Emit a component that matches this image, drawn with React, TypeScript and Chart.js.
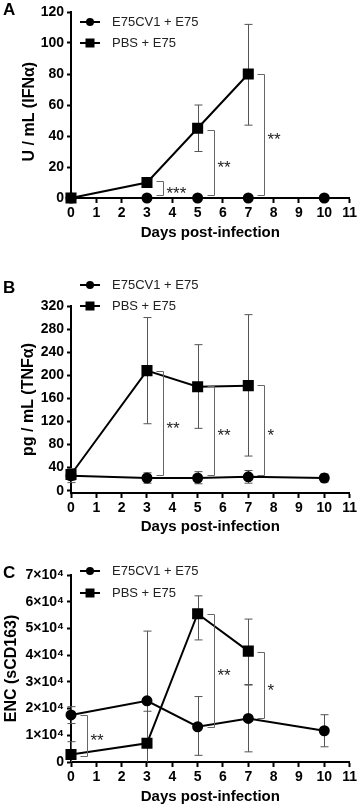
import React, { useEffect, useRef } from "react";
import { Chart, registerables } from "chart.js";

Chart.register(...registerables);

// ---------- shared data ----------
const seriesLabels = ["E75CV1 + E75", "PBS + E75"];
const e75cv1Days = [0, 3, 5, 7, 10];
const pbsDays = [0, 3, 5, 7];
const xTicks = [0, 1, 2, 3, 4, 5, 6, 7, 8, 9, 10, 11];
const xTitle = "Days post-infection";

// ---------- Panel A: IFN alpha ----------
const ifnTicks = [0, 20, 40, 60, 80, 100, 120];
const ifnE75CV1 = [0, 0, 0, 0, 0];
const ifnE75CV1Hi = [0, 0, 0, 0, 0];
const ifnE75CV1Lo = [0, 0, 0, 0, 0];
const ifnPBS = [0, 10, 45, 80];
const ifnPBSHi = [0, 11, 60, 112];
const ifnPBSLo = [0, 9, 30, 47];
const ifnSigDays = [3, 5, 7];
const ifnSigTop = [10.8, 43.8, 80];
const ifnSigBottom = [2.2, 1.7, 2];
const ifnSigLabels = ["***", "**", "**"];

// ---------- Panel B: TNF alpha ----------
const tnfTicks = [0, 40, 80, 120, 160, 200, 240, 280, 320];
const tnfE75CV1 = [26, 22, 22, 24, 22];
const tnfE75CV1Hi = [38, 31, 33, 35, 29];
const tnfE75CV1Lo = [14, 13, 12, 13, 15];
const tnfPBS = [28, 208, 180, 182];
const tnfPBSHi = [38, 300, 253, 305];
const tnfPBSLo = [18, 116, 108, 60];
const tnfSigDays = [3, 5, 7];
const tnfSigTop = [208, 181, 183];
const tnfSigBottom = [27, 27, 27];
const tnfSigLabels = ["**", "**", "*"];

// ---------- Panel C: sCD163 ----------
const encTicks = [0, 10000, 20000, 30000, 40000, 50000, 60000, 70000];
const encE75CV1 = [17600, 22900, 13200, 16300, 11700];
const encE75CV1Hi = [20700, 49000, 24500, 28800, 17700];
const encE75CV1Lo = [14400, -3000, 2500, 3800, 5700];
const encPBS = [2800, 7000, 55500, 41500];
const encPBSHi = [7600, 19000, 62200, 53500];
const encPBSLo = [-2000, -5000, 45700, 29000];
const encSigDays = [0, 5, 7];
const encSigTop = [17600, 55300, 41300];
const encSigBottom = [2400, 13200, 16600];
const encSigLabels = ["**", "**", "*"];

const FONT = "'Liberation Sans', Arial, Helvetica, sans-serif";

type Panel = {
  letter: string;
  top: number;
  height: number;
  padTop: number;
  xAxisH: number;
  yMin: number;
  yMax: number;
  yTicks: number[];
  yTitle: string;
  yTitlePad: number;
  e: number[];
  eHi: number[];
  eLo: number[];
  p: number[];
  pHi: number[];
  pLo: number[];
  sigDays: number[];
  sigTop: number[];
  sigBottom: number[];
  sigLabels: string[];
  legendY: number[];
  letterY: number;
  fmt: (v: number) => string;
};

const panels: Panel[] = [
  {
    letter: "A", top: 0, height: 242, padTop: 12, xAxisH: 44,
    yMin: 0, yMax: 120, yTicks: ifnTicks, yTitle: "U / mL (IFNα)   ", yTitlePad: 20,
    e: ifnE75CV1, eHi: ifnE75CV1Hi, eLo: ifnE75CV1Lo,
    p: ifnPBS, pHi: ifnPBSHi, pLo: ifnPBSLo,
    sigDays: ifnSigDays, sigTop: ifnSigTop, sigBottom: ifnSigBottom, sigLabels: ifnSigLabels,
    legendY: [22, 43], letterY: 10, fmt: (v) => String(v),
  },
  {
    letter: "B", top: 270, height: 266, padTop: 36, xAxisH: 43,
    yMin: -4, yMax: 320, yTicks: tnfTicks, yTitle: "pg / mL (TNFα)", yTitlePad: 19,
    e: tnfE75CV1, eHi: tnfE75CV1Hi, eLo: tnfE75CV1Lo,
    p: tnfPBS, pHi: tnfPBSHi, pLo: tnfPBSLo,
    sigDays: tnfSigDays, sigTop: tnfSigTop, sigBottom: tnfSigBottom, sigLabels: tnfSigLabels,
    legendY: [15, 36], letterY: 18, fmt: (v) => String(v),
  },
  {
    letter: "C", top: 560, height: 246, padTop: 15, xAxisH: 44,
    yMin: 0, yMax: 70000, yTicks: encTicks, yTitle: "ENC (sCD163)", yTitlePad: 2,
    e: encE75CV1, eHi: encE75CV1Hi, eLo: encE75CV1Lo,
    p: encPBS, pHi: encPBSHi, pLo: encPBSLo,
    sigDays: encSigDays, sigTop: encSigTop, sigBottom: encSigBottom, sigLabels: encSigLabels,
    legendY: [11, 33], letterY: 13, fmt: (v) => (v === 0 ? "0" : `${v / 10000}×10⁴`),
  },
];

function makePlugin(pn: Panel) {
  return {
    id: "extras" + pn.letter,
    beforeDatasetsDraw(chart: any) {
      const { ctx, chartArea } = chart;
      const xs = chart.scales.x;
      const ys = chart.scales.y;
      ctx.save();
      ctx.beginPath();
      ctx.rect(chartArea.left - 20, chartArea.top - 20, chartArea.right - chartArea.left + 40, chartArea.bottom - chartArea.top + 20);
      ctx.clip();
      ctx.strokeStyle = "#555";
      ctx.lineWidth = 1;
      const drawErr = (days: number[], hi: number[], lo: number[]) => {
        days.forEach((d, i) => {
          if (hi[i] === lo[i]) return;
          const x = Math.round(xs.getPixelForValue(d)) + 0.5;
          const yh = ys.getPixelForValue(hi[i]);
          const yl = ys.getPixelForValue(lo[i]);
          ctx.beginPath();
          ctx.moveTo(x, yh);
          ctx.lineTo(x, yl);
          ctx.moveTo(x - 4, yh);
          ctx.lineTo(x + 4, yh);
          if (lo[i] >= pn.yMin) {
            ctx.moveTo(x - 4, yl);
            ctx.lineTo(x + 4, yl);
          }
          ctx.stroke();
        });
      };
      drawErr(e75cv1Days, pn.eHi, pn.eLo);
      drawErr(pbsDays, pn.pHi, pn.pLo);
      ctx.restore();
    },
    afterDatasetsDraw(chart: any) {
      const { ctx } = chart;
      const xs = chart.scales.x;
      const ys = chart.scales.y;
      ctx.save();
      // significance brackets
      ctx.strokeStyle = "#666";
      ctx.lineWidth = 1;
      ctx.fillStyle = "#222";
      ctx.font = `17px ${FONT}`;
      ctx.textAlign = "left";
      ctx.textBaseline = "alphabetic";
      pn.sigDays.forEach((d, i) => {
        const x = xs.getPixelForValue(d);
        const a = Math.round(x + 9) + 0.5;
        const v = Math.round(x + 16) + 0.5;
        const yt = Math.round(ys.getPixelForValue(pn.sigTop[i])) + 0.5;
        const yb = Math.round(ys.getPixelForValue(pn.sigBottom[i])) + 0.5;
        ctx.beginPath();
        ctx.moveTo(a, yt);
        ctx.lineTo(v, yt);
        ctx.lineTo(v, yb);
        ctx.lineTo(a, yb);
        ctx.stroke();
        ctx.fillText(pn.sigLabels[i], v + 3, (yt + yb) / 2 + 10);
      });
      // legend
      seriesLabels.forEach((lab, i) => {
        const y = pn.legendY[i];
        ctx.strokeStyle = "#000";
        ctx.lineWidth = 2;
        ctx.beginPath();
        ctx.moveTo(80, y);
        ctx.lineTo(100, y);
        ctx.stroke();
        ctx.fillStyle = "#000";
        ctx.beginPath();
        if (i === 0) ctx.arc(90, y, 4, 0, Math.PI * 2);
        else ctx.rect(85.5, y - 4.5, 9, 9);
        ctx.fill();
        ctx.fillStyle = "#222";
        ctx.font = `13px ${FONT}`;
        ctx.textBaseline = "middle";
        ctx.fillText(lab, 112, y);
      });
      // panel letter
      ctx.fillStyle = "#000";
      ctx.font = `bold 17px ${FONT}`;
      ctx.textBaseline = "middle";
      ctx.fillText(pn.letter, 3, pn.letterY);
      ctx.restore();
    },
  };
}

function makeConfig(pn: Panel): any {
  const tickFont = { family: FONT, size: 14, weight: "bold" as const };
  const titleFont = { family: FONT, size: 16, weight: "bold" as const };
  const common = {
    borderColor: "#000",
    backgroundColor: "#000",
    pointBackgroundColor: "#000",
    pointBorderColor: "#000",
    borderWidth: 2,
    tension: 0,
    fill: false,
    clip: false as const,
  };
  return {
    type: "line",
    data: {
      datasets: [
        {
          ...common,
          label: seriesLabels[0],
          data: e75cv1Days.map((d, i) => ({ x: d, y: pn.e[i] })),
          pointStyle: "circle",
          pointRadius: 4.5,
          pointHoverRadius: 4.5,
        },
        {
          ...common,
          label: seriesLabels[1],
          data: pbsDays.map((d, i) => ({ x: d, y: pn.p[i] })),
          pointStyle: "rect",
          pointRadius: 6.4,
          pointHoverRadius: 6.4,
        },
      ],
    },
    options: {
      animation: false,
      responsive: false,
      events: [],
      layout: { padding: { top: pn.padTop, right: 9, left: 0, bottom: 0 } },
      plugins: { legend: { display: false }, tooltip: { enabled: false } },
      scales: {
        x: {
          type: "linear",
          min: 0,
          max: 11,
          afterBuildTicks: (s: any) => {
            s.ticks = xTicks.map((v) => ({ value: v }));
          },
          afterFit: (s: any) => {
            s.height = pn.xAxisH;
          },
          ticks: { font: tickFont, color: "#000", padding: 2, maxRotation: 0, autoSkip: false },
          grid: { display: true, drawOnChartArea: false, drawTicks: true, tickLength: 5, tickWidth: 2, tickColor: "#000" },
          border: { display: true, color: "#000", width: 2 },
          title: { display: true, text: xTitle, font: { ...titleFont, size: 15 }, color: "#000", padding: { top: 0, bottom: 0 } },
        },
        y: {
          type: "linear",
          min: pn.yMin,
          max: pn.yMax,
          afterBuildTicks: (s: any) => {
            s.ticks = pn.yTicks.map((v) => ({ value: v }));
          },
          afterFit: (s: any) => {
            s.width = 71;
          },
          ticks: { font: tickFont, color: "#000", padding: 3, callback: (v: any) => pn.fmt(Number(v)) },
          grid: { display: true, drawOnChartArea: false, drawTicks: true, tickLength: 4, tickWidth: 2, tickColor: "#000" },
          border: { display: true, color: "#000", width: 2 },
          title: { display: true, text: pn.yTitle, font: titleFont, color: "#000", padding: { top: pn.yTitlePad, bottom: 0 } },
        },
      },
    },
    plugins: [makePlugin(pn)],
  };
}

export default function App() {
  const refs = useRef<(HTMLCanvasElement | null)[]>([]);
  useEffect(() => {
    const charts = panels.map((pn, i) => new Chart(refs.current[i] as HTMLCanvasElement, makeConfig(pn)));
    return () => charts.forEach((c) => c.destroy());
  }, []);
  return (
    <div style={{ position: "absolute", left: 0, top: 0, width: 359, height: 809, background: "#fff" }}>
      {panels.map((pn, i) => (
        <canvas
          key={pn.letter}
          ref={(el) => {
            refs.current[i] = el;
          }}
          width={359}
          height={pn.height}
          style={{ position: "absolute", left: 0, top: pn.top, width: 359, height: pn.height }}
        />
      ))}
    </div>
  );
}
